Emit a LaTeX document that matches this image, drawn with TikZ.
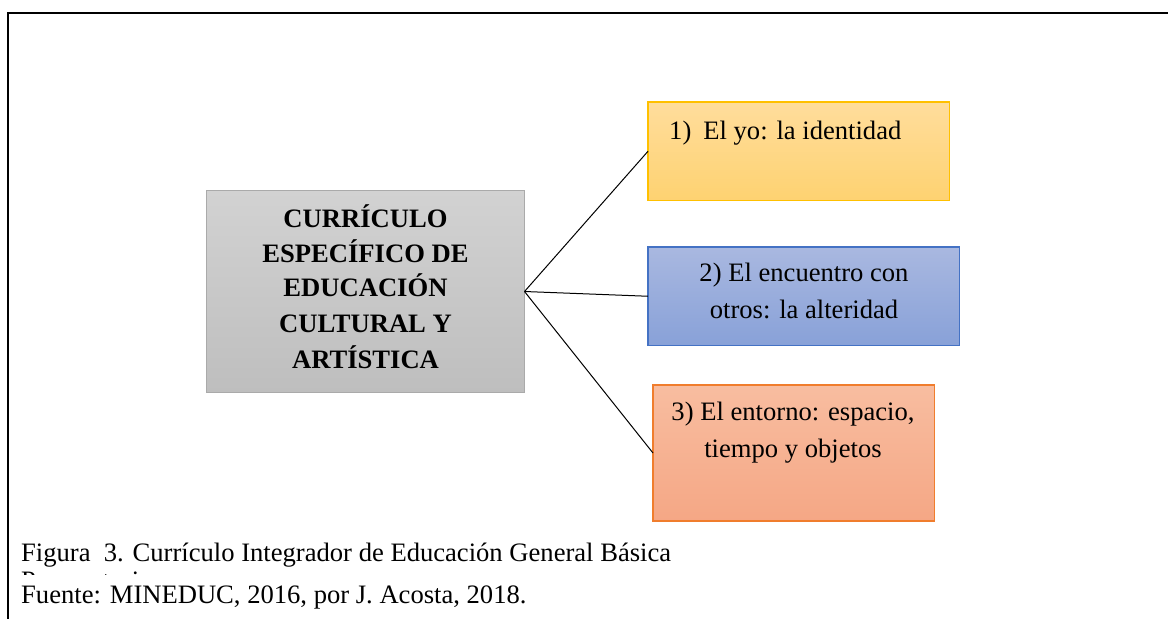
\documentclass[tikz,border=0pt]{standalone}
\usepackage{fontspec}
\setmainfont{Liberation Serif}
\definecolor{goldtop}{RGB}{255,221,156}
\definecolor{goldbot}{RGB}{254,210,113}
\definecolor{goldln}{RGB}{255,192,0}
\definecolor{bluetop}{RGB}{169,184,224}
\definecolor{bluebot}{RGB}{136,161,216}
\definecolor{blueln}{RGB}{68,114,196}
\definecolor{orgtop}{RGB}{248,189,160}
\definecolor{orgbot}{RGB}{245,167,133}
\definecolor{orgln}{RGB}{240,125,45}
\definecolor{grytop}{RGB}{210,210,210}
\definecolor{grybot}{RGB}{190,190,190}
\definecolor{gryln}{RGB}{170,170,170}
\tikzset{
  x=1pt,y=-1pt,
  card/.style={rectangle,anchor=north west,inner sep=0pt,outer sep=0pt,line width=0pt},
  body/.style={font=\fontsize{26.6}{26.6}\selectfont,text=black,inner sep=0pt,anchor=base},
  head/.style={font=\fontsize{26.6}{26.6}\selectfont\bfseries,text=black,inner sep=0pt,anchor=base},
  note/.style={font=\fontsize{26.6}{26.6}\selectfont,text=black,inner sep=0pt,anchor=base west},
  link/.style={draw=black,line width=1pt},
  frameline/.style={draw=black,line width=2pt},
  edge line/.style={line width=1.2pt},
}
\begin{document}
\begin{tikzpicture}
\useasboundingbox (0,0) rectangle (1168,619);
\draw[frameline] (1168,13) -- (7.5,13) -- (7.5,619);
\node[card,top color=grytop,bottom color=grybot,minimum width=318pt,minimum height=202pt] (main) at (206.5,190.5) {};
\node[card,top color=goldtop,bottom color=goldbot,minimum width=301.5pt,minimum height=98.5pt] (a) at (648,102) {};
\node[card,top color=bluetop,bottom color=bluebot,minimum width=311.5pt,minimum height=98.5pt] (b) at (648,247) {};
\node[card,top color=orgtop,bottom color=orgbot,minimum width=281.5pt,minimum height=136pt] (c) at (653,385) {};
\draw[edge line,gryln] (main.north west) rectangle (main.south east);
\draw[edge line,goldln] (a.north west) rectangle (a.south east);
\draw[edge line,blueln] (b.north west) rectangle (b.south east);
\draw[edge line,orgln] (c.north west) rectangle (c.south east);
\draw[link] (main.east) -- (a.west);
\draw[link] (main.east) -- (b.west);
\draw[link] (main.east) -- (c.west);
\node[head] (m1) at (365.5,227) {CURRÍCULO};
\node[head] (m2) at (365.5,262.5) {ESPECÍFICO DE};
\node[head] (m3) at (365.5,296.5) {EDUCACIÓN};
\node[head] (m4) at (365.5,332) {CULTURAL Y};
\node[head] (m5) at (365.5,368.5) {ARTÍSTICA};
\node[note] (t1) at (669,139) {1)\hspace{12pt}El yo: la identidad};
\node[body] (t2a) at (804,281) {2) El encuentro con};
\node[body] (t2b) at (804,318) {otros: la alteridad};
\node[body] (t3a) at (793,420) {3) El entorno: espacio,};
\node[body] (t3b) at (793,457) {tiempo y objetos};
\node[note] (f1) at (21,561) {Figura\hspace{6.6pt} 3. Currículo Integrador de Educación General Básica};
\begin{scope}
\clip (15,560) rectangle (300,574);
\node[note] (f3) at (21,589) {Preparatoria};
\end{scope}
\node[note] (f2) at (21,603) {Fuente: MINEDUC, 2016, por J. Acosta, 2018.};
\end{tikzpicture}
\end{document}
